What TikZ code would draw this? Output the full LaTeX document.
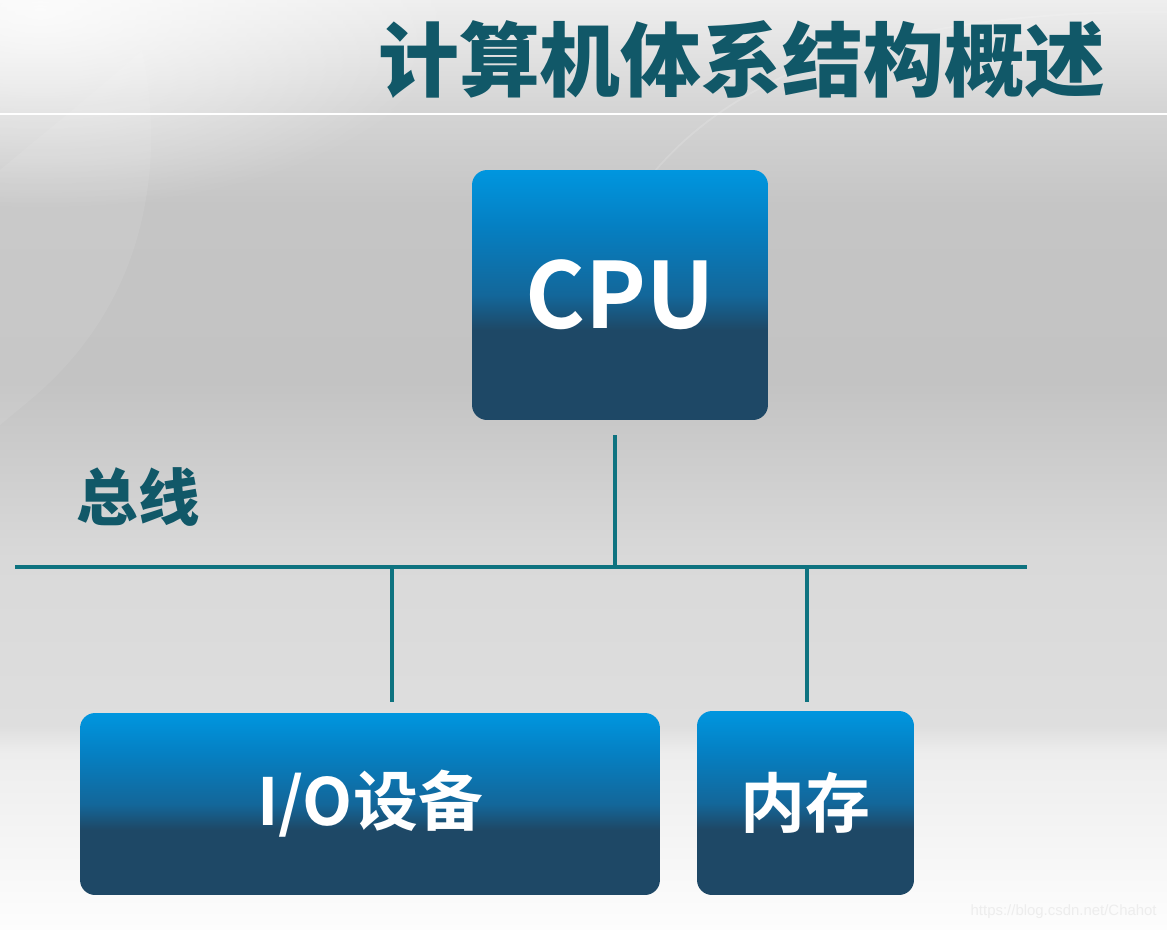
\documentclass[tikz,border=0pt]{standalone}
\usepackage{fontspec}
\newfontfamily\cjk{Noto Sans CJK SC Bold}
\IfFontExistsTF{Noto Sans CJK SC Black}
  {\newfontfamily\cjkheavy{Noto Sans CJK SC Black}}
  {\newfontfamily\cjkheavy{Noto Sans CJK SC Bold}[FakeBold=1.5]}
\newfontfamily\wmfont{Liberation Sans}
\usetikzlibrary{calc,fadings}

\definecolor{titleteal}{HTML}{115868}
\definecolor{busteal}{HTML}{0E7380}
\definecolor{boxtop}{HTML}{0096DF}
\definecolor{boxlight}{HTML}{0580C3}
\definecolor{boxmid}{HTML}{13679A}
\definecolor{boxdark}{HTML}{1E4866}
\definecolor{bgA}{HTML}{FDFDFD}
\definecolor{bgB}{HTML}{EDEDED}
\definecolor{bgC}{HTML}{DEDEDE}
\definecolor{bgD}{HTML}{D9D9D9}
\definecolor{bgE}{HTML}{C3C3C3}
\definecolor{bgF}{HTML}{C5C5C5}
\definecolor{bgG}{HTML}{D4D4D4}
\definecolor{bgH}{HTML}{EEEEEE}

% tikz maps 25bp..75bp onto the path
\pgfdeclareverticalshading{boxshade}{100bp}{color(0bp)=(boxdark); color(25bp)=(boxdark); color(43bp)=(boxdark); color(50bp)=(boxmid); color(64bp)=(boxlight); color(75bp)=(boxtop); color(100bp)=(boxtop)}
\pgfdeclareverticalshading{bgshade}{100bp}{color(0bp)=(bgA); color(25bp)=(bgA); color(34.5bp)=(bgB); color(36bp)=(bgC); color(45bp)=(bgD); color(54.5bp)=(bgE); color(64bp)=(bgF); color(69bp)=(bgG); color(75bp)=(bgH); color(100bp)=(bgH)}
\tikzfading[name=glow, inner color=transparent!0, outer color=transparent!100]

\tikzset{
  unit/.style={rounded corners=0.3cm, shading=boxshade, text=white, inner sep=0pt},
  bus/.style={busteal, line width=2.3pt},
  heading/.style={text=titleteal, inner sep=0pt}
}

\begin{document}
\begin{tikzpicture}[x=0.02cm, y=-0.02cm]
\useasboundingbox (0,0) rectangle (1167,930);

% background
\fill[shading=bgshade] (0,0) rectangle (1167,930);
\fill[white, path fading=glow, opacity=.8] (40,10) ellipse [x radius=420, y radius=200];
\fill[white, opacity=.08] (0,170) .. controls (60,120) and (110,80) .. (142,50) .. controls (165,160) and (150,300) .. (30,400) -- (0,425) -- cycle;
\draw[white, opacity=.15, line width=1pt] (640,190) .. controls (720,80) and (880,10) .. (1167,12);
\draw[white, line width=1.3pt] (0,114) -- (1167,114);

% title
\node[heading, font=\cjkheavy\fontsize{46}{46}\selectfont] (title) at (742,60) {计算机体系结构概述};

% units
\node[unit, minimum width=5.92cm, minimum height=5cm, font=\cjk\fontsize{52}{52}\selectfont] (cpu) at (620,295) {CPU};
\node[unit, minimum width=11.6cm, minimum height=3.64cm, font=\cjk\fontsize{37}{37}\selectfont] (io) at (370,804) {I/O设备};
\node[unit, minimum width=4.34cm, minimum height=3.68cm, font=\cjk\fontsize{37}{37}\selectfont] (mem) at (805.5,803) {内存};

% bus
\node[heading, font=\cjkheavy\fontsize{35}{35}\selectfont] (buslabel) at (138,497) {总线};
\coordinate (busL) at (15,567);
\coordinate (busR) at (1027,567);
\coordinate (cpuTap) at ($(cpu.south)+(-5,15)$);
\coordinate (ioTap) at ($(io.north)+(22,-11)$);
\coordinate (memTap) at ($(mem.north)+(1.5,-9)$);

\draw[bus] (busL) -- (busR);
\draw[bus] (cpuTap) -- (cpuTap |- busL);
\draw[bus] (ioTap |- busL) -- (ioTap);
\draw[bus] (memTap |- busL) -- (memTap);

% watermark
\node[anchor=east, inner sep=0pt, font=\wmfont\fontsize{8.5}{8.5}\selectfont, text=black!7] (wm) at (1157,912) {https://blog.csdn.net/Chahot};
\end{tikzpicture}
\end{document}
